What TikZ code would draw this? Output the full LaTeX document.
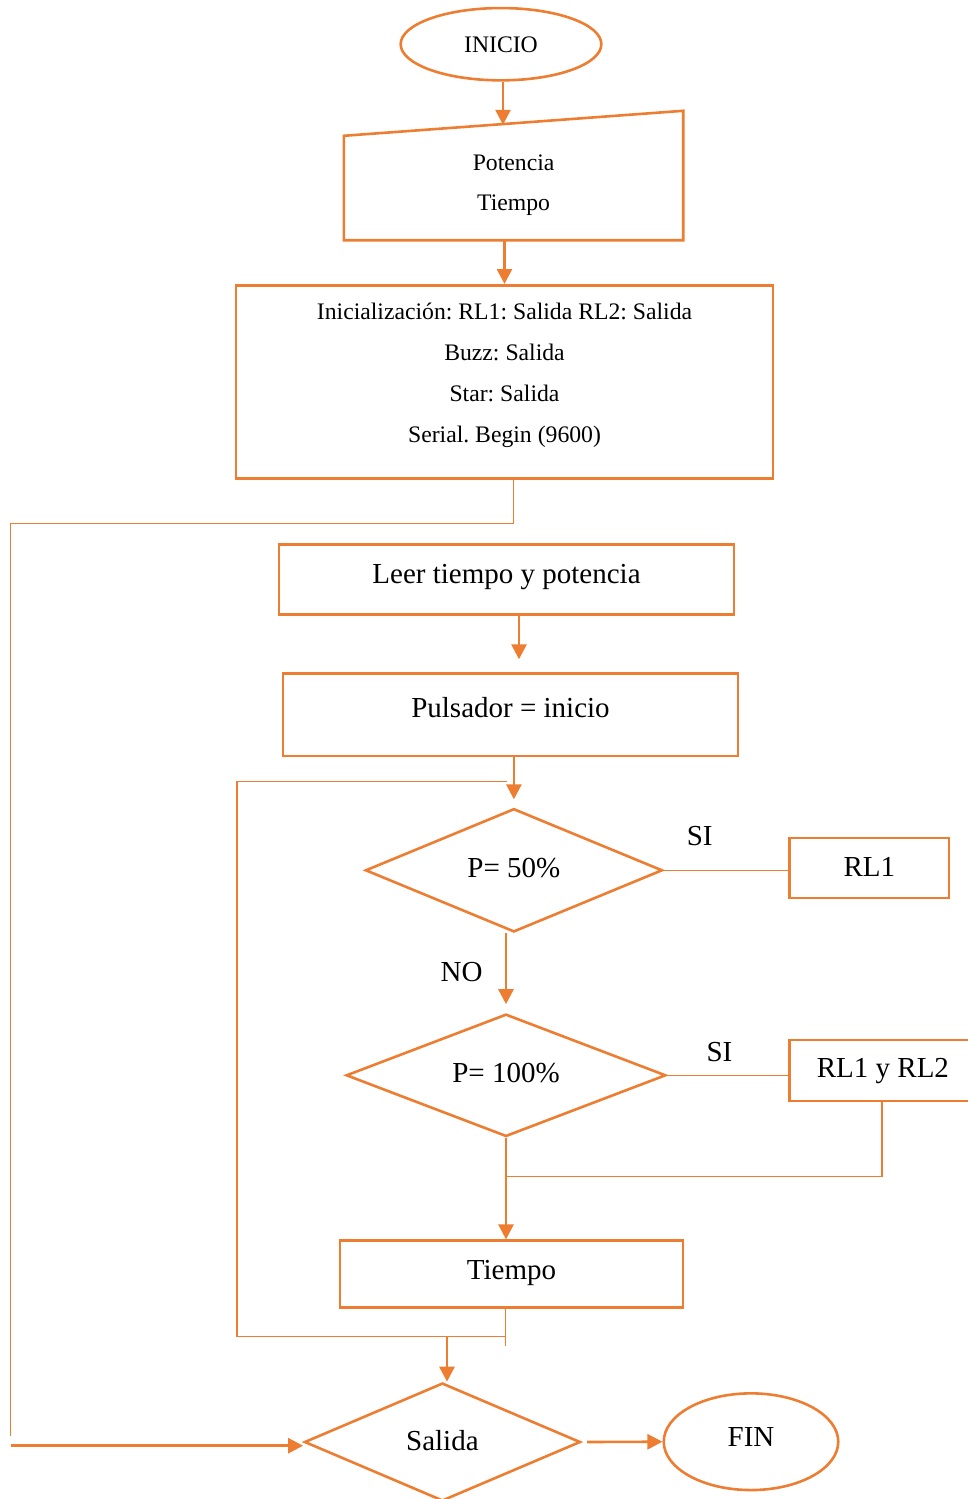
\documentclass[tikz,border=0pt]{standalone}
\usepackage{fontspec}
\setmainfont{Liberation Serif}
\usetikzlibrary{shapes.geometric,arrows.meta,calc}
\definecolor{fc}{HTML}{ED7D31}
\frenchspacing
\tikzset{
  box/.style={draw=fc, line width=2.6pt, rectangle, inner sep=0pt},
  dia/.style={draw=fc, line width=2.6pt, diamond, inner sep=0pt},
  oval/.style={draw=fc, line width=2.6pt, ellipse, inner sep=0pt},
  big/.style={font=\fontsize{29}{34}\selectfont},
  small/.style={font=\fontsize{23.7}{28}\selectfont},
  bsh/.style={text height=#1, text depth=0pt},
  arr/.style={draw=fc, line width=2.6pt, -{Triangle[length=15pt,width=15pt]}},
  thin/.style={draw=fc, line width=1.2pt},
  lbl/.style={anchor=base, inner sep=0pt}
}
\begin{document}
\begin{tikzpicture}[x=1pt,y=-1pt]
\useasboundingbox (0,0) rectangle (968,1499);

% shapes
\node[oval, small, bsh=16.2pt, minimum width=200.7pt, minimum height=72.3pt] (inicio) at (501,44.2) {INICIO};

\node[inner sep=0pt, minimum width=339pt, minimum height=129pt] (minput) at (513.5,175.5) {};
\draw[fc, line width=2.6pt] (minput.south west) -- (minput.south east) -- (minput.north east) -- ($(minput.north west)+(0,25)$) -- cycle;
\coordinate (mtop) at (503,124.8);
\node[lbl, small] (t1) at (513.6,170) {Potencia};
\node[lbl, small] (t2) at (513.6,210.7) {Tiempo};

\node[box, minimum width=537pt, minimum height=193pt] (init) at (504.5,381.8) {};
\node[lbl, small] (i1) at (504.5,319.5) {Inicialización: RL1: Salida RL2: Salida};
\node[lbl, small] (i2) at (504.5,360.5) {Buzz: Salida};
\node[lbl, small] (i3) at (504.5,401.5) {Star: Salida};
\node[lbl, small] (i4) at (504.5,442.5) {Serial. Begin (9600)};

\node[box, big, bsh=7.4pt, minimum width=455pt, minimum height=70pt] (leer) at (506.5,579.3) {Leer tiempo y potencia};
\node[box, big, bsh=4.8pt, minimum width=455pt, minimum height=82.3pt] (pul) at (510.5,714.9) {Pulsador = inicio};
\node[dia, big, bsh=13.4pt, minimum width=297pt, minimum height=123.3pt] (d1) at (513.9,870.3) {P= 50\%};
\node[box, big, bsh=16pt, minimum width=159.3pt, minimum height=60pt] (rl1) at (869.4,868) {RL1};
\node[dia, big, bsh=14.4pt, minimum width=319.7pt, minimum height=122.4pt] (d2) at (506,1075.3) {P= 100\%};
\node[box, big, bsh=14.4pt, minimum width=186.3pt, minimum height=61pt] (rl12) at (882.9,1070.5) {RL1 y RL2};
\node[box, big, bsh=9.6pt, minimum width=343pt, minimum height=67pt] (tiempo) at (511.5,1274.2) {Tiempo};
\node[dia, big, bsh=16pt, minimum width=276pt, minimum height=118pt] (salida) at (442.4,1442) {Salida};
\node[oval, big, bsh=8.6pt, minimum width=174.5pt, minimum height=96.7pt] (fin) at (751,1441.7) {FIN};

% labels
\node[lbl, big] (si1) at (699.7,845.7) {SI};
\node[lbl, big] (si2) at (719.5,1061.7) {SI};
\node[lbl, big] (no) at (461.6,981.7) {NO};

% connectors
\draw[arr] (inicio.south -| mtop) -- (mtop);
\draw[arr] (init.north |- minput.south) -- (init.north);

\coordinate (lpA) at (513.6,523.3);
\coordinate (lpB) at (10.5,523.3);
\coordinate (lpC) at (10.5,1436);
\draw[thin] (init.south -| lpA) -- (lpA) -- (lpB) -- (lpC);
\coordinate (lpD) at (11,1445.7);
\draw[arr] (lpD) -- (lpD -| salida.west);

\coordinate (a3) at (519,659.3);
\draw[arr] (leer.south -| a3) -- (a3);
\draw[arr, shorten >=8pt] (pul.south -| d1.north) -- (d1.north);

\coordinate (lp2) at (507,781.7);
\coordinate (lp3) at (237,781.7);
\coordinate (lp4) at (237,1336.7);
\coordinate (lp5) at (505.8,1336.7);
\draw[thin] (lp2) -- (lp3) -- (lp4) -- (lp5);
\draw[thin] (tiempo.south -| lp5) -- ++(0,36.6);

\draw[thin] (d1.east) -- (d1.east -| rl1.west);
\draw[arr, shorten >=8.6pt] (d1.south -| d2.north) -- (d2.north);
\draw[thin] (d2.east) -- (d2.east -| rl12.west);
\coordinate (j1) at (882,1176.7);
\draw[thin] (rl12.south -| j1) -- (j1) -- (j1 -| d2.south);
\draw[arr] (d2.south) -- (d2.south |- tiempo.north);

\coordinate (s1) at (447,1336.7);
\draw[arr] (s1) -- (s1 |- salida.north);
\draw[arr] ([xshift=5.5pt]salida.east) -- (fin.west);
\end{tikzpicture}
\end{document}
